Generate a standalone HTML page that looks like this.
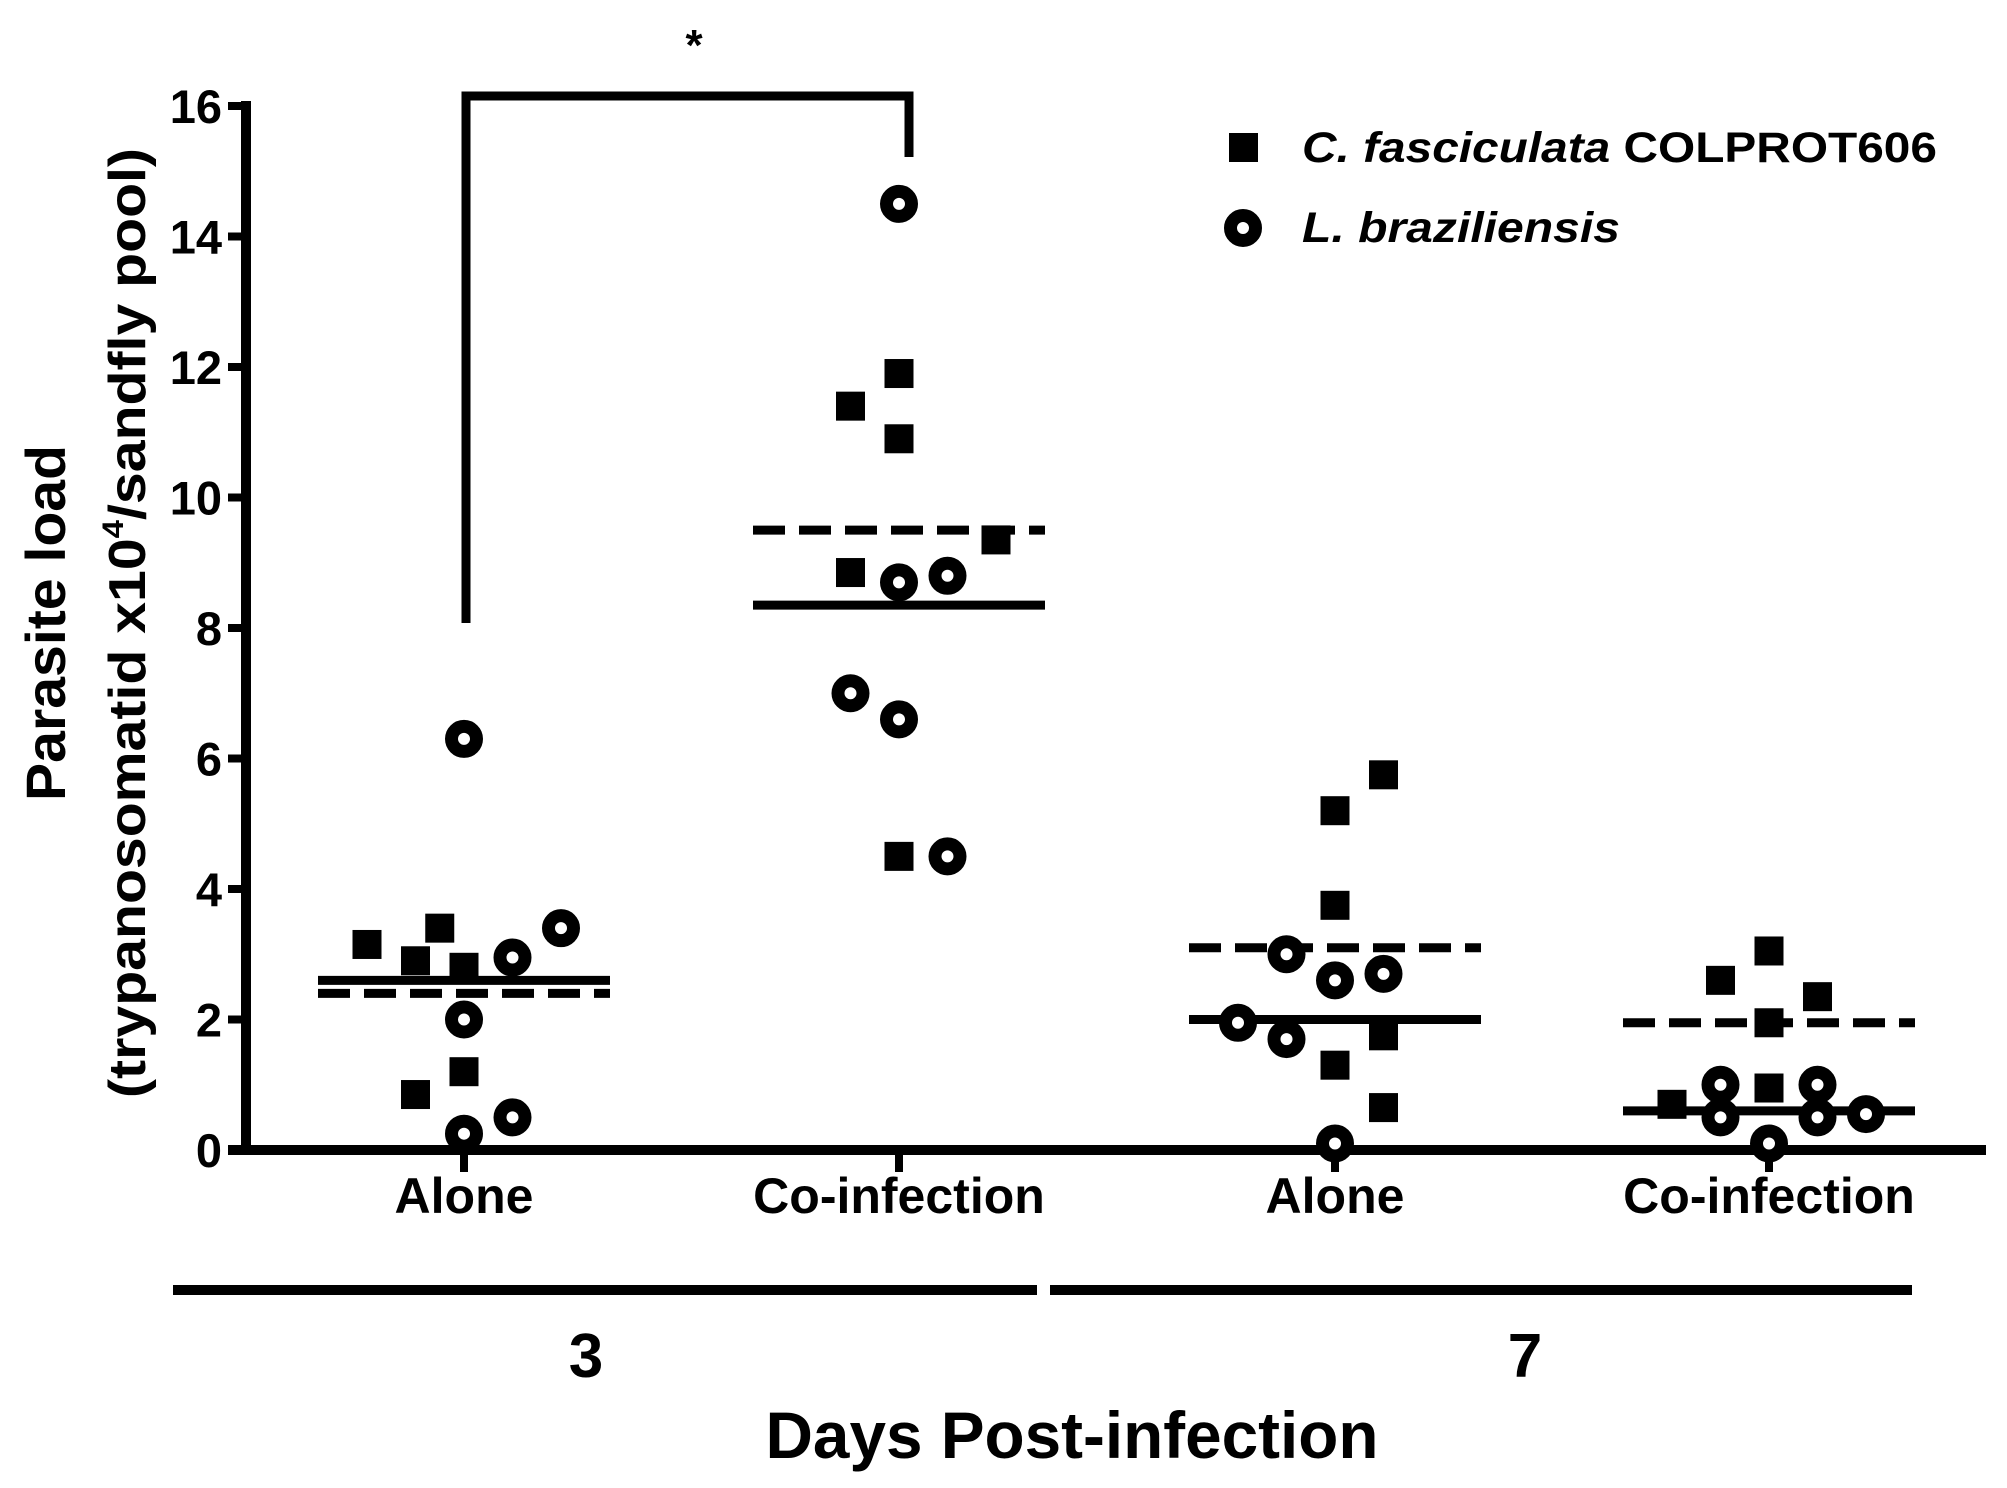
<!DOCTYPE html>
<html><head><meta charset="utf-8">
<style>
html,body{margin:0;padding:0;background:#fff;}
svg{display:block;}
text{font-family:"Liberation Sans",Arial,sans-serif;font-weight:bold;fill:#000;}
</style></head>
<body>
<svg id="chart" width="2007" height="1488" viewBox="0 0 2007 1488" xmlns="http://www.w3.org/2000/svg">
<g id="axes"></g>
<g id="marks"></g>
<g>
  <text transform="translate(65,623) rotate(-90)" text-anchor="middle" font-size="56" textLength="356" lengthAdjust="spacingAndGlyphs">Parasite load</text>
  <text transform="translate(145,623) rotate(-90)" text-anchor="middle" font-size="52" textLength="950" lengthAdjust="spacingAndGlyphs">(trypanosomatid x10<tspan font-size="30" dy="-22">4</tspan><tspan dy="22">/sandfly pool)</tspan></text>
</g>
<g>
  <rect x="1229" y="133" width="29" height="29" fill="#000"/>
  <text x="1302" y="162" font-size="43" textLength="635" lengthAdjust="spacingAndGlyphs"><tspan font-style="italic">C. fasciculata</tspan> COLPROT606</text>
  <circle cx="1243" cy="228" r="12.5" fill="#fff" stroke="#000" stroke-width="13"/>
  <text x="1302" y="242" font-size="43" font-style="italic" textLength="318" lengthAdjust="spacingAndGlyphs">L. braziliensis</text>
</g>
<g>
  <polyline points="466,623 466,96 909,96 909,157" fill="none" stroke="#000" stroke-width="9"/>
  <text x="694" y="60" text-anchor="middle" font-size="44">*</text>
</g>
<g>
  <line x1="173" y1="1290" x2="1037" y2="1290" stroke="#000" stroke-width="10"/>
  <line x1="1050" y1="1290" x2="1912" y2="1290" stroke="#000" stroke-width="10"/>
  <text x="586" y="1377" text-anchor="middle" font-size="62">3</text>
  <text x="1525" y="1377" text-anchor="middle" font-size="62">7</text>
  <text x="1072" y="1458" text-anchor="middle" font-size="66" textLength="613" lengthAdjust="spacingAndGlyphs">Days Post-infection</text>
</g>
</svg>
<script>
const categories = ["Alone", "Co-infection", "Alone", "Co-infection"];
const yTicks = [0, 2, 4, 6, 8, 10, 12, 14, 16];
// jitter slot and value for each marker
const squareSlots = [[-2,-1,-0.5,0,-1,0],[-1,0,0,-1,2,0],[0,1,0,1,0,1],[-1,0,1,0,-2,0]];
const squareValues = [[3.15,2.9,3.4,2.8,0.85,1.2],[11.4,11.9,10.9,8.85,9.35,4.5],[5.2,5.75,3.75,1.75,1.3,0.65],[2.6,3.05,2.35,1.95,0.7,0.95]];
const circleSlots = [[0,1,2,0,0,1],[0,0,1,-1,0,1],[-1,0,1,-2,-1,0],[-1,1,-1,1,2,0]];
const circleValues = [[6.3,2.95,3.4,2.0,0.25,0.5],[14.5,8.7,8.8,7.0,6.6,4.5],[3.0,2.6,2.7,1.95,1.7,0.1],[1.0,1.0,0.5,0.5,0.55,0.1]];
const meanSolid = [2.6, 8.35, 2.0, 0.6];
const meanDashed = [2.4, 9.5, 3.1, 1.95];

const NS = "http://www.w3.org/2000/svg";
const Y0 = 1150, Y16 = 106, XL = 246;
const catX = [464, 899, 1335, 1769];
const slotW = 48.5;
function yScale(v){ return Y0 - (v/16)*(Y0-Y16); }
function xScale(ci, slot){ return catX[ci] + slot*slotW; }
function mk(tag, attrs, parent){ const e=document.createElementNS(NS,tag); for(const k in attrs) e.setAttribute(k,attrs[k]); parent.appendChild(e); return e; }

const axes = document.getElementById('axes');
let l = mk('line',{x1:XL,y1:Y16-5,x2:XL,y2:Y0+5,stroke:'#000','stroke-width':10},axes);


l = mk('line',{x1:228,y1:Y0,x2:1986,y2:Y0,stroke:'#000','stroke-width':10},axes);


yTicks.forEach(t=>{
  const y=yScale(t);
  const tk=mk('line',{x1:228,y1:y,x2:XL,y2:y,stroke:'#000','stroke-width':8},axes);
  
  
  const tx=mk('text',{x:222,y:y+17,'text-anchor':'end','font-size':47},axes);
  tx.textContent=t;
  
  
});
categories.forEach((c,i)=>{
  const tk=mk('line',{x1:catX[i],y1:Y0,x2:catX[i],y2:1172,stroke:'#000','stroke-width':8},axes);
  
  
  const tx=mk('text',{x:catX[i],y:1213,'text-anchor':'middle','font-size':50},axes);
  tx.textContent=c;
  
  
});

const marks = document.getElementById('marks');
categories.forEach((c,i)=>{
  const y1=yScale(meanSolid[i]);
  const ms=mk('line',{x1:catX[i]-146,y1:y1,x2:catX[i]+146,y2:y1,stroke:'#000','stroke-width':9},marks);
  
  
  const y2=yScale(meanDashed[i]);
  const md=mk('line',{x1:catX[i]-146,y1:y2,x2:catX[i]+146,y2:y2,stroke:'#000','stroke-width':9,'stroke-dasharray':'32 14'},marks);
  
  
});
squareValues.forEach((arr,i)=>arr.forEach((v,j)=>{
  const r=mk('rect',{x:xScale(i,squareSlots[i][j])-14.5,y:yScale(v)-14.5,width:29,height:29,fill:'#000'},marks);
  
  
}));
circleValues.forEach((arr,i)=>arr.forEach((v,j)=>{
  const c=mk('circle',{cx:xScale(i,circleSlots[i][j]),cy:yScale(v),r:12.5,fill:'#fff',stroke:'#000','stroke-width':13},marks);
  
  
}));
</script>
</body></html>
